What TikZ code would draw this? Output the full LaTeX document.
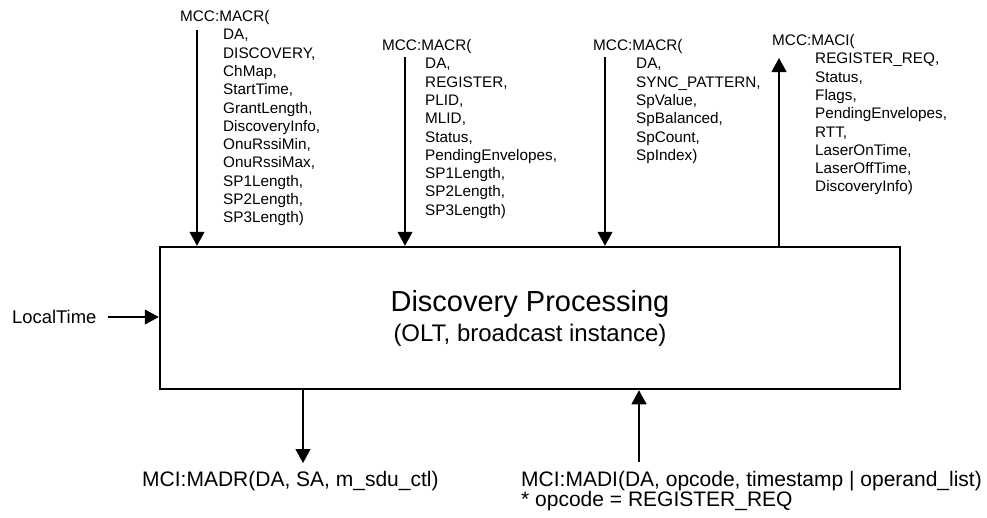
\documentclass[tikz,border=0pt]{standalone}
\usepackage{fontspec}
\setmainfont{Liberation Sans}
\usetikzlibrary{arrows.meta,positioning}
\tikzset{
    block/.style={draw,line width=2.5pt,minimum width=740pt,minimum height=142pt,align=center,
        font=\fontsize{29}{30}\selectfont},
    args/.style={inner sep=0pt,align=left,anchor=north west,font=\fontsize{15.3}{18.3}\selectfont},
    sig/.style={inner sep=0pt,align=left,font=\fontsize{21}{20}\selectfont},
    flow/.style={-{Triangle[width=15pt,length=14pt]},line width=1.1pt}
}
\newcommand{\argind}{\hspace*{43pt}}

\begin{document}
\begin{tikzpicture}[x=1pt,y=-1pt]
    \useasboundingbox (0,0) rectangle (987,517);

    \node[block] (proc) at (530,318) {Discovery Processing\\{\fontsize{24}{30}\selectfont (OLT, broadcast instance)}};

    % parameter lists above the block
    \node[args] (macr 1) at (180,10.3) {MCC:MACR(\\\argind DA,\\\argind DISCOVERY,\\\argind ChMap,\\\argind StartTime,\\\argind GrantLength,\\\argind DiscoveryInfo,\\\argind OnuRssiMin,\\\argind OnuRssiMax,\\\argind SP1Length,\\\argind SP2Length,\\\argind SP3Length)};
    \node[args] (macr 2) at (382,39.3) {MCC:MACR(\\\argind DA,\\\argind REGISTER,\\\argind PLID,\\\argind MLID,\\\argind Status,\\\argind PendingEnvelopes,\\\argind SP1Length,\\\argind SP2Length,\\\argind SP3Length)};
    \node[args] (macr 3) at (593,39.3) {MCC:MACR(\\\argind DA,\\\argind SYNC\_PATTERN,\\\argind SpValue,\\\argind SpBalanced,\\\argind SpCount,\\\argind SpIndex)};
    \node[args] (maci) at (772,34.3) {MCC:MACI(\\\argind REGISTER\_REQ,\\\argind Status,\\\argind Flags,\\\argind PendingEnvelopes,\\\argind RTT,\\\argind LaserOnTime,\\\argind LaserOffTime,\\\argind DiscoveryInfo)};

    \coordinate (in 1) at (197,30);
    \coordinate (in 2) at (405,57);
    \coordinate (in 3) at (605,57);
    \coordinate (out 1) at (779,58);
    \draw[flow] (in 1) -- (in 1 |- proc.north);
    \draw[flow] (in 2) -- (in 2 |- proc.north);
    \draw[flow] (in 3) -- (in 3 |- proc.north);
    \draw[flow] (out 1 |- proc.north) -- (out 1);

    % local time input
    \node[inner sep=0pt,anchor=west,font=\fontsize{18.4}{20}\selectfont] (time) at (12,317) {LocalTime};
    \draw[flow] ([xshift=11pt]time.east) -- (time.east -| proc.west);

    % service interface below
    \node[sig,anchor=west] (madr) at (142,481) {MCI:MADR(DA, SA, m\_sdu\_ctl)};
    \node[sig,anchor=north west] (madi) at (521,471) {MCI:MADI(DA, opcode, timestamp | operand\_list)\\* opcode = REGISTER\_REQ};
    \coordinate (madr arrow) at (303,463);
    \coordinate (madi arrow) at (639,462);
    \draw[flow] (madr arrow |- proc.south) -- (madr arrow);
    \draw[flow] (madi arrow) -- (madi arrow |- proc.south);
\end{tikzpicture}
\end{document}
